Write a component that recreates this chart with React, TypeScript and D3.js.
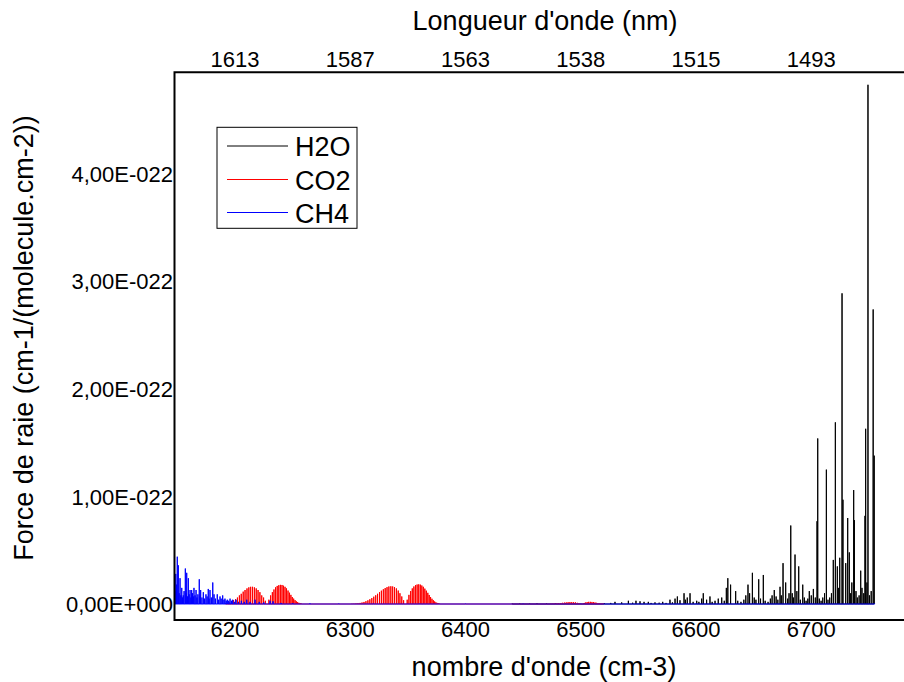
import React from 'react';
import * as d3 from 'd3';

// Line strengths in units of 1E-022 cm-1/(molecule.cm-2); positions in cm-1
const WAVENUMBER_TICKS = [6200, 6300, 6400, 6500, 6600, 6700];
const WAVELENGTH_LABELS = ['1613', '1587', '1563', '1538', '1515', '1493'];
const Y_TICKS = [0, 1, 2, 3, 4];
const Y_TICK_LABELS = ['0,00E+000', '1,00E-022', '2,00E-022', '3,00E-022', '4,00E-022'];
const SERIES_NAMES = ['H2O', 'CO2', 'CH4'];
const SERIES_COLORS = ['#000000', '#ff0000', '#0000ff'];

const H2O_LINES: [number, number][] = [
  [6440.5, 0.003], [6447, 0.004], [6455.6, 0.003], [6462, 0.005], [6470.3, 0.004], [6478, 0.003],
  [6486.5, 0.005], [6495, 0.004], [6503, 0.006], [6512, 0.005], [6520.4, 0.008], [6526, 0.01],
  [6529.7, 0.02], [6535.5, 0.015], [6541.3, 0.03], [6545, 0.012], [6547.9, 0.03], [6551.4, 0.025],
  [6554.9, 0.02], [6558.6, 0.02], [6561, 0.01], [6564.4, 0.015], [6568, 0.012], [6571.1, 0.02],
  [6574, 0.01], [6577.4, 0.04], [6579.5, 0.015], [6581.8, 0.05], [6583.8, 0.07], [6586.1, 0.035],
  [6589.6, 0.1], [6590.8, 0.04], [6592.4, 0.06], [6594.8, 0.1], [6597.5, 0.02], [6600.6, 0.03],
  [6602.5, 0.02], [6604.9, 0.05], [6606.3, 0.1], [6609.2, 0.04], [6612.1, 0.07], [6614, 0.02],
  [6616.5, 0.03], [6619.3, 0.05], [6622.3, 0.06], [6624.5, 0.03], [6626.3, 0.15], [6627.6, 0.24],
  [6630.0, 0.18], [6634.4, 0.12], [6636.2, 0.03], [6639, 0.02], [6641.5, 0.04], [6643.2, 0.08],
  [6645.1, 0.18], [6646.5, 0.1], [6648.9, 0.29], [6650.5, 0.06], [6652, 0.04], [6654.4, 0.23],
  [6656, 0.05], [6658.4, 0.27], [6660, 0.03], [6662.5, 0.02], [6664.5, 0.05], [6666, 0.08],
  [6667.9, 0.13], [6669.5, 0.07], [6671, 0.04], [6672.9, 0.16], [6674, 0.08], [6675.5, 0.38],
  [6677.8, 0.2], [6679.5, 0.05], [6680.7, 0.1], [6682.2, 0.73], [6683.5, 0.1], [6684.5, 0.06],
  [6685.9, 0.46], [6687.5, 0.12], [6689.1, 0.35], [6690.5, 0.04], [6692.6, 0.18], [6694, 0.06],
  [6695.5, 0.03], [6697, 0.05], [6698.3, 0.12], [6700, 0.08], [6701.8, 0.14], [6703.5, 0.06],
  [6705.0, 0.77], [6705.6, 1.54], [6707, 0.05], [6708.5, 0.03], [6710, 0.06], [6711.5, 0.1],
  [6713.1, 1.25], [6714.5, 0.04], [6716, 0.06], [6717.5, 0.1], [6719.1, 0.41], [6720.9, 1.69],
  [6722.6, 0.35], [6723.8, 0.15], [6724.7, 0.43], [6726.7, 2.89], [6727.5, 0.97], [6729.9, 0.38],
  [6731.6, 0.8], [6733.0, 0.48], [6734.2, 0.1], [6735.2, 0.2], [6736.8, 1.06], [6737.4, 0.78],
  [6738.8, 0.12], [6740, 0.06], [6741.5, 0.08], [6742.9, 0.31], [6744, 0.15], [6745.5, 0.1],
  [6746.6, 0.82], [6747.2, 1.63], [6748.3, 0.2], [6749.2, 4.83], [6750.5, 0.08], [6752, 0.12],
  [6753.7, 2.74], [6754.6, 1.38],
];

const CO2_LINES: [number, number][] = [
  // 6228 band, P branch
  [6191.9, 0.006], [6193.6, 0.01], [6195.3, 0.015], [6197.0, 0.025], [6198.7, 0.035], [6200.4, 0.045],
  [6202.1, 0.06], [6203.8, 0.08], [6205.4, 0.095], [6207.1, 0.115], [6208.7, 0.13], [6210.4, 0.145],
  [6212.0, 0.155], [6213.6, 0.16], [6215.2, 0.16], [6216.8, 0.155], [6218.4, 0.145], [6220.0, 0.13],
  [6221.6, 0.11], [6223.2, 0.08], [6224.8, 0.06], [6226.3, 0.03],
  // 6228 band, R branch
  [6229.4, 0.04], [6230.9, 0.08], [6232.4, 0.11], [6233.8, 0.135], [6235.2, 0.155], [6236.6, 0.168],
  [6238.0, 0.175], [6239.4, 0.178], [6240.8, 0.177], [6242.1, 0.17], [6243.4, 0.16], [6244.7, 0.145],
  [6246.0, 0.125], [6247.3, 0.105], [6248.5, 0.085], [6249.7, 0.065], [6250.9, 0.05], [6252.1, 0.036],
  [6253.2, 0.025], [6254.3, 0.017], [6255.4, 0.011], [6256.5, 0.007], [6257.5, 0.004],
  // 6348 band, P branch
  [6301.5, 0.002], [6303.2, 0.003], [6305.0, 0.005], [6306.7, 0.007], [6308.5, 0.01], [6310.2, 0.014],
  [6311.9, 0.019], [6313.6, 0.026], [6315.3, 0.034], [6317.0, 0.044], [6318.7, 0.055], [6320.4, 0.068],
  [6322.1, 0.081], [6323.7, 0.095], [6325.4, 0.11], [6327.0, 0.124], [6328.7, 0.137], [6330.3, 0.148],
  [6331.9, 0.157], [6333.5, 0.163], [6335.2, 0.165], [6336.8, 0.163], [6338.4, 0.157], [6340.0, 0.145],
  [6341.6, 0.125], [6343.1, 0.1], [6344.7, 0.07], [6346.3, 0.035],
  // 6348 band, R branch
  [6349.4, 0.04], [6350.9, 0.085], [6352.4, 0.12], [6353.8, 0.145], [6355.2, 0.163], [6356.6, 0.175],
  [6358.0, 0.181], [6359.4, 0.183], [6360.8, 0.18], [6362.1, 0.172], [6363.4, 0.16], [6364.7, 0.143],
  [6366.0, 0.124], [6367.3, 0.104], [6368.5, 0.084], [6369.7, 0.065], [6370.9, 0.049], [6372.1, 0.035],
  [6373.2, 0.024], [6374.3, 0.016], [6375.4, 0.01], [6376.5, 0.006], [6377.5, 0.003],
  // weak band near 6500
  [6474.1, 0.002], [6475.8, 0.003], [6477.5, 0.004], [6479.2, 0.005], [6480.8, 0.007], [6482.5, 0.009],
  [6484.1, 0.011], [6485.8, 0.013], [6487.4, 0.015], [6489.0, 0.017], [6490.6, 0.018], [6492.2, 0.018],
  [6493.8, 0.017], [6495.4, 0.015], [6497.0, 0.011], [6498.5, 0.006],
  [6502.5, 0.008], [6504.0, 0.014], [6505.5, 0.018], [6506.9, 0.02], [6508.3, 0.02], [6509.7, 0.019],
  [6511.1, 0.017], [6512.4, 0.014], [6513.7, 0.011], [6515.0, 0.008], [6516.3, 0.006], [6517.5, 0.004],
  [6518.7, 0.003], [6519.9, 0.002],
];

const CH4_LINES: [number, number][] = [
  [6147.9, 0.12], [6148.6, 0.28], [6149.3, 0.18], [6149.9, 0.44], [6150.8, 0.36], [6151.5, 0.1],
  [6152.3, 0.24], [6153.0, 0.08], [6153.8, 0.15], [6154.4, 0.06], [6155.1, 0.08], [6155.8, 0.12],
  [6156.9, 0.33], [6157.5, 0.1], [6158.1, 0.29], [6158.8, 0.07], [6159.5, 0.24], [6160.2, 0.09],
  [6161.0, 0.13], [6161.7, 0.06], [6162.4, 0.13], [6163.1, 0.1], [6163.8, 0.07], [6164.4, 0.15],
  [6165.3, 0.08], [6166.2, 0.13], [6167.0, 0.06], [6167.8, 0.09], [6169.0, 0.23], [6169.6, 0.07],
  [6170.2, 0.13], [6171.3, 0.06], [6172.5, 0.11], [6173.6, 0.05], [6174.8, 0.09], [6175.8, 0.07],
  [6176.8, 0.14], [6177.5, 0.05], [6178.3, 0.13], [6179.5, 0.06], [6180.7, 0.2], [6181.8, 0.09],
  [6183.0, 0.05], [6184.6, 0.09], [6185.8, 0.04], [6187.0, 0.07], [6188.0, 0.05], [6189.3, 0.08],
  [6190.4, 0.04], [6191.3, 0.05], [6192.4, 0.03], [6193.3, 0.04], [6194.5, 0.03], [6195.7, 0.05],
  [6197.0, 0.03], [6198.0, 0.04], [6199.5, 0.02], [6200.9, 0.04], [6203, 0.02], [6205.5, 0.03],
  [6208, 0.02], [6210.2, 0.04], [6213, 0.02], [6217.4, 0.04], [6221, 0.02], [6225, 0.015],
  [6230.4, 0.03], [6233, 0.025], [6240, 0.01], [6250, 0.008], [6265, 0.005], [6290, 0.003],
  [6320, 0.002], [6360, 0.002], [6400, 0.002], [6450, 0.002], [6500, 0.002], [6550, 0.002],
  [6600, 0.002], [6650, 0.003], [6700, 0.003], [6755, 0.002],
];

const SERIES_DATA = [H2O_LINES, CO2_LINES, CH4_LINES];

const W = 904;
const H = 682;
const LEFT = 174.5;
const RIGHT = 913.5;
const TOP = 72.3;
const BOTTOM = 620;
const FONT = '"Liberation Sans", Arial, sans-serif';

export default function App() {
  const x = d3.scaleLinear().domain([6147.5, 6788.7]).range([LEFT, RIGHT]);
  const y = d3.scaleLinear().domain([-0.1488, 4.946]).range([BOTTOM, TOP]);

  const stickLine = d3
    .line<[number, number]>()
    .x((d) => x(d[0]))
    .y((d) => y(d[1]));

  const stickPath = (lines: [number, number][]) => {
    const sorted = [...lines].sort((a, b) => a[0] - b[0]);
    const pts: [number, number][] = [];
    sorted.forEach(([nu, s]) => {
      pts.push([nu, 0], [nu, s], [nu, 0]);
    });
    return stickLine(pts) || '';
  };

  const legendX = 217;
  const legendY = 127.3;
  const legendRowY = [146, 179.5, 212.5];

  return (
    <svg
      width={W}
      height={H}
      style={{ position: 'absolute', left: 0, top: 0, display: 'block', background: '#fff' }}
      fontFamily={FONT}
    >
      <defs>
        <clipPath id="plotClip">
          <rect x={LEFT} y={TOP} width={RIGHT - LEFT} height={BOTTOM - TOP} />
        </clipPath>
      </defs>
      <rect x={0} y={0} width={W} height={H} fill="#fff" />

      <g clipPath="url(#plotClip)">
        {SERIES_DATA.map((lines, i) => (
          <path
            key={SERIES_NAMES[i]}
            d={stickPath(lines)}
            fill="none"
            stroke={SERIES_COLORS[i]}
            strokeWidth={1}
          />
        ))}
      </g>

      {/* frame (open on the right) */}
      <path
        d={`M${W + 2},${TOP} L${LEFT},${TOP} L${LEFT},${BOTTOM} L${W + 2},${BOTTOM}`}
        fill="none"
        stroke="#000"
        strokeWidth={2}
      />

      {/* bottom axis labels */}
      {WAVENUMBER_TICKS.map((t) => (
        <text key={'b' + t} x={x(t)} y={637} textAnchor="middle" fontSize={22} fill="#000">
          {t}
        </text>
      ))}
      {/* top axis labels (wavelength) */}
      {WAVENUMBER_TICKS.map((t, i) => (
        <text key={'t' + t} x={x(t)} y={66.5} textAnchor="middle" fontSize={22} fill="#000">
          {WAVELENGTH_LABELS[i]}
        </text>
      ))}
      {/* y axis labels */}
      {Y_TICKS.map((t, i) => (
        <text key={'y' + t} x={173} y={y(t) + 8} textAnchor="end" fontSize={22} fill="#000">
          {Y_TICK_LABELS[i]}
        </text>
      ))}

      {/* axis titles */}
      <text x={(LEFT + RIGHT) / 2} y={675.5} textAnchor="middle" fontSize={27} fill="#000">
        nombre d'onde (cm-3)
      </text>
      <text x={(LEFT + RIGHT) / 2 + 1} y={30} textAnchor="middle" fontSize={27} fill="#000">
        Longueur d'onde (nm)
      </text>
      <text
        transform={`translate(33,338) rotate(-90)`}
        textAnchor="middle"
        fontSize={27}
        fill="#000"
      >
        Force de raie (cm-1/(molecule.cm-2))
      </text>

      {/* legend */}
      <rect x={legendX} y={legendY} width={140} height={101} fill="#fff" stroke="#000" strokeWidth={1} />
      {SERIES_NAMES.map((n, i) => (
        <g key={'lg' + n}>
          <line x1={227} x2={288} y1={legendRowY[i]} y2={legendRowY[i]} stroke={SERIES_COLORS[i]} strokeWidth={1} />
          <text x={295} y={legendRowY[i] + 10} fontSize={27} fill="#000">
            {n}
          </text>
        </g>
      ))}
    </svg>
  );
}
